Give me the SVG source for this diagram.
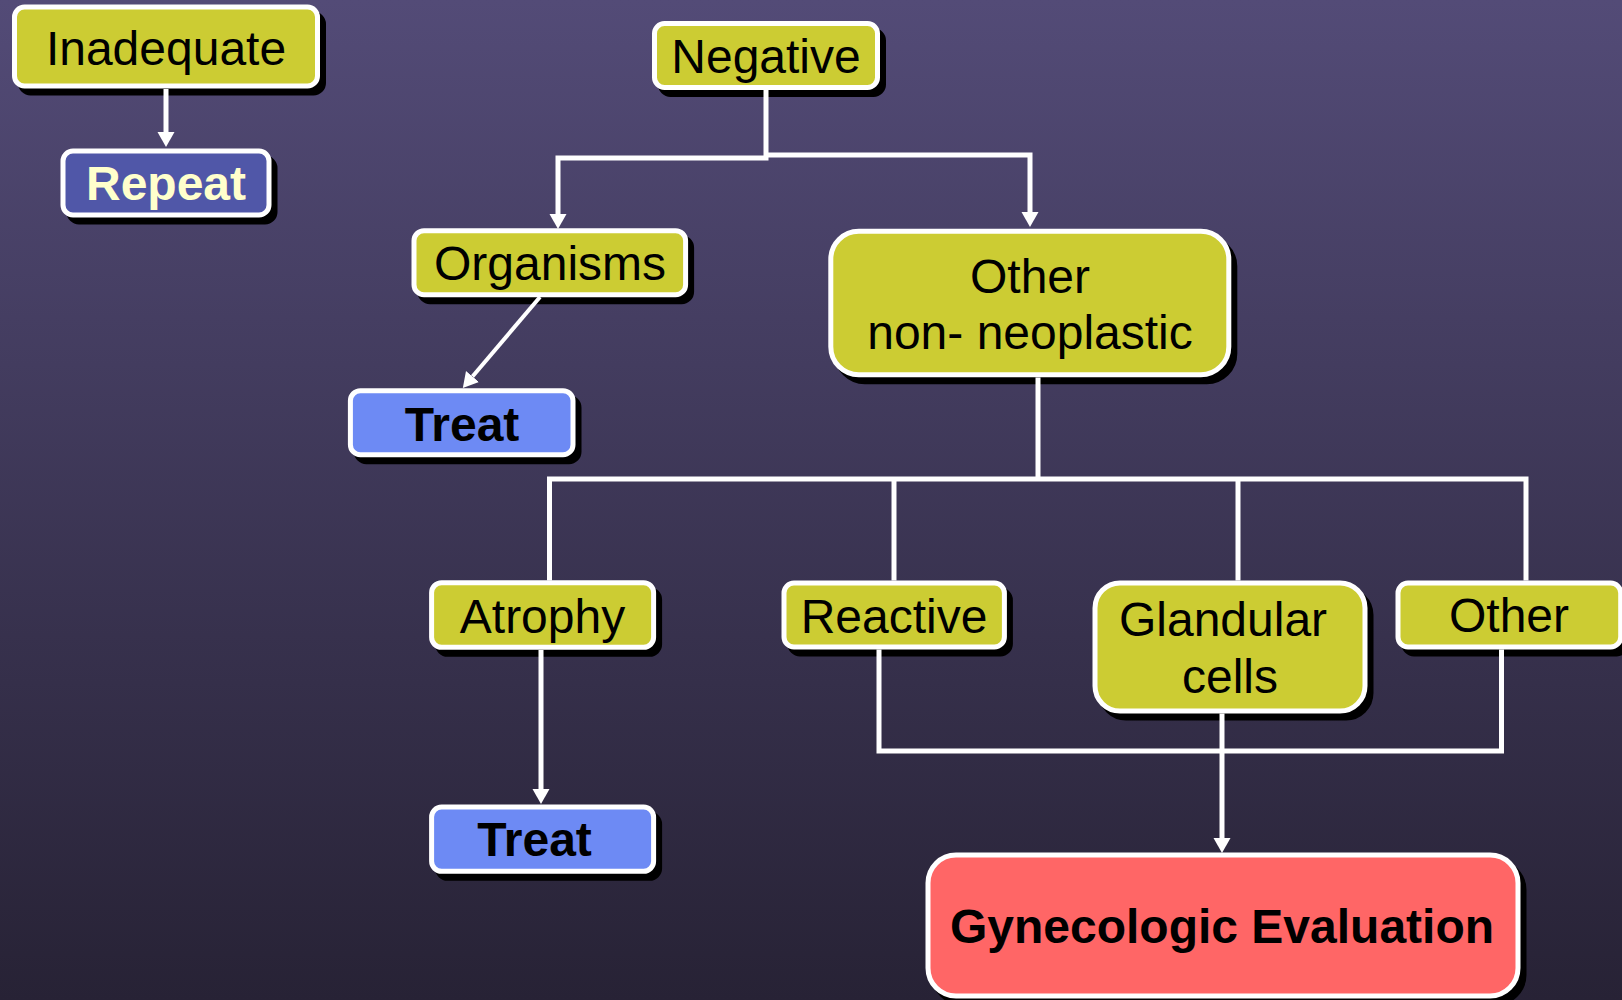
<svg xmlns="http://www.w3.org/2000/svg" width="1622" height="1000" viewBox="0 0 1622 1000">
  <style>
    .shadow { fill: #000; stroke: #000; stroke-width: 5; }
    .box { stroke: #fff; stroke-width: 5; }
    .yellow { fill: #cccc33; }
    .purple { fill: #5057a8; }
    .blue { fill: #6d8af4; }
    .red { fill: #ff6666; }
    .lbl { font-family: "Liberation Sans", Arial, sans-serif; font-size: 48px; text-anchor: middle; fill: #000; }
    .bold { font-weight: bold; }
    .pale { fill: #ffffcc; }
    .conn { fill: none; stroke: #fff; stroke-width: 5; stroke-linejoin: miter; }
  </style>
  <defs>
    <linearGradient id="bg" x1="0" y1="0" x2="0" y2="1">
      <stop offset="0" stop-color="#534b77"/>
      <stop offset="1" stop-color="#272235"/>
    </linearGradient>
    <marker id="arrow" markerUnits="userSpaceOnUse" markerWidth="16" markerHeight="18" refX="0" refY="8.5" orient="auto">
      <path d="M0,0 L15,8.5 L0,17 z" fill="#fff"/>
    </marker>
  </defs>

  <rect x="0" y="0" width="1622" height="1000" fill="url(#bg)"/>

  <g id="inadequate">
    <rect class="shadow" x="20.5" y="14" width="303" height="79" rx="10"/>
    <rect class="box yellow" x="14.5" y="7" width="303" height="79" rx="10"/>
    <text class="lbl" x="166" y="65">Inadequate</text>
  </g>

  <g id="repeat">
    <rect class="shadow" x="69" y="158" width="206" height="64" rx="10"/>
    <rect class="box purple" x="63" y="151" width="206" height="64" rx="10"/>
    <text class="lbl bold pale" x="166" y="200">Repeat</text>
  </g>

  <g id="negative">
    <rect class="shadow" x="660.5" y="30.5" width="223" height="64" rx="10"/>
    <rect class="box yellow" x="654.5" y="23.5" width="223" height="64" rx="10"/>
    <text class="lbl" x="766" y="73">Negative</text>
  </g>

  <g id="organisms">
    <rect class="shadow" x="420" y="237.7" width="271.6" height="64" rx="10"/>
    <rect class="box yellow" x="414" y="230.7" width="271.6" height="64" rx="10"/>
    <text class="lbl" x="550" y="280">Organisms</text>
  </g>

  <g id="treat1">
    <rect class="shadow" x="356.4" y="397.7" width="222.6" height="64" rx="10"/>
    <rect class="box blue" x="350.4" y="390.7" width="222.6" height="64" rx="10"/>
    <text class="lbl bold" x="462" y="441">Treat</text>
  </g>

  <g id="other-non-neoplastic">
    <rect class="shadow" x="836.8" y="238.3" width="398" height="143.5" rx="28"/>
    <rect class="box yellow" x="830.8" y="231.3" width="398" height="143.5" rx="28"/>
    <text class="lbl" x="1030" y="293">Other</text>
    <text class="lbl" x="1030" y="349">non- neoplastic</text>
  </g>

  <g id="atrophy">
    <rect class="shadow" x="437.6" y="589.7" width="222" height="64.6" rx="10"/>
    <rect class="box yellow" x="431.6" y="582.7" width="222" height="64.6" rx="10"/>
    <text class="lbl" x="542.5" y="633">Atrophy</text>
  </g>

  <g id="treat2">
    <rect class="shadow" x="437.6" y="814" width="222" height="64.3" rx="10"/>
    <rect class="box blue" x="431.6" y="807" width="222" height="64.3" rx="10"/>
    <text class="lbl bold" x="534.5" y="856">Treat</text>
  </g>

  <g id="reactive">
    <rect class="shadow" x="790" y="590" width="220.4" height="64" rx="10"/>
    <rect class="box yellow" x="784" y="583" width="220.4" height="64" rx="10"/>
    <text class="lbl" x="894" y="633">Reactive</text>
  </g>

  <g id="glandular-cells">
    <rect class="shadow" x="1101" y="590" width="270" height="128" rx="25"/>
    <rect class="box yellow" x="1095" y="583" width="270" height="128" rx="25"/>
    <text class="lbl" x="1223" y="636">Glandular</text>
    <text class="lbl" x="1230" y="693">cells</text>
  </g>

  <g id="other">
    <rect class="shadow" x="1404" y="590" width="222.7" height="64" rx="10"/>
    <rect class="box yellow" x="1398" y="583" width="222.7" height="64" rx="10"/>
    <text class="lbl" x="1509" y="632">Other</text>
  </g>

  <g id="gynecologic-evaluation">
    <rect class="shadow" x="934" y="862" width="590" height="141" rx="28"/>
    <rect class="box red" x="928" y="855" width="590" height="141" rx="28"/>
    <text class="lbl bold" x="1222" y="943">Gynecologic Evaluation</text>
  </g>

  <g id="connectors">
    <path class="conn" d="M166,89 V132" marker-end="url(#arrow)"/>
    <path class="conn" d="M766,90 V158 H558 V214" marker-end="url(#arrow)"/>
    <path class="conn" d="M766,155 H1030 V212" marker-end="url(#arrow)"/>
    <path class="conn" style="stroke-width:4" d="M540,297 L472.5,376.5" marker-end="url(#arrow)"/>
    <path class="conn" d="M1038,377.5 V479"/>
    <path class="conn" d="M549.5,580.5 V479 H1526 V580.5"/>
    <path class="conn" d="M894,479 V580.5"/>
    <path class="conn" d="M1238,479 V580.5"/>
    <path class="conn" d="M541,650 V789" marker-end="url(#arrow)"/>
    <path class="conn" d="M879,649.5 V751 H1501.5 V649.5"/>
    <path class="conn" d="M1222,713.5 V838" marker-end="url(#arrow)"/>
  </g>
</svg>
